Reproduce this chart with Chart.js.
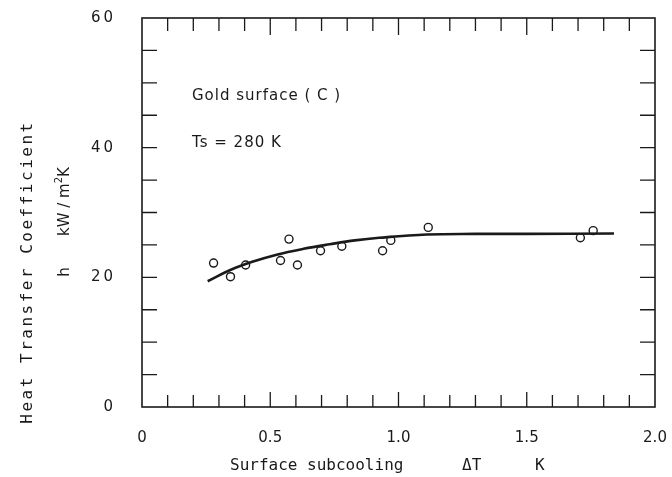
<!DOCTYPE html>
<html>
<head>
<meta charset="utf-8">
<script src="https://cdn.jsdelivr.net/npm/chart.js@4/dist/chart.umd.min.js"></script>
<style>
  html, body { margin: 0; padding: 0; background: #fff; }
  #wrap { width: 672px; height: 477px; }
</style>
</head>
<body>
<div id="wrap"><canvas id="chart" width="672" height="477"></canvas></div>
<script>
// measured points (open circles)
const pointX = [0.279, 0.345, 0.404, 0.54, 0.573, 0.606, 0.696, 0.779, 0.938, 0.97, 1.116, 1.709, 1.759];
const pointY = [22.2, 20.1, 21.9, 22.6, 25.9, 21.9, 24.1, 24.8, 24.1, 25.7, 27.7, 26.1, 27.2];

// fitted curve
const curveX = [0.256, 0.342, 0.43, 0.525, 0.63, 0.732, 0.83, 0.925, 1.11, 1.3, 1.5, 1.84];
const curveY = [19.4, 21.1, 22.4, 23.5, 24.4, 25.1, 25.7, 26.1, 26.6, 26.7, 26.7, 26.75];

const xTickLabels = ["0", "0.5", "1.0", "1.5", "2.0"];
const yTickLabels = ["0", "2\u20090", "4\u20090", "6\u20090"];

const MONO = "'DejaVu Sans Mono', monospace";
const SANS = "'DejaVu Sans', sans-serif";
const INK = "#1a1a1a";

// draw a row of text pieces one after the other, starting at x
function textRow(ctx, pieces, x, y) {
  pieces.forEach((p) => {
    ctx.font = p.font;
    ctx.fillText(p.text, x, y + (p.dy || 0));
    x += ctx.measureText(p.text).width + (p.gap || 0);
  });
}

// ticks pointing inward, frame on all sides, annotations
const framePlugin = {
  id: "frame",
  afterDraw(chart) {
    const { ctx, chartArea: a, scales: { x, y } } = chart;
    ctx.save();
    ctx.strokeStyle = INK;
    ctx.lineWidth = 1.6;
    ctx.strokeRect(a.left, a.top, a.right - a.left, a.bottom - a.top);

    ctx.lineWidth = 1.3;
    ctx.beginPath();
    for (let i = 1; i < 20; i++) {
      const px = x.getPixelForValue(i / 10);
      const major = i % 5 === 0;
      ctx.moveTo(px, a.top);
      ctx.lineTo(px, a.top + (major ? 17 : 13));
      ctx.moveTo(px, a.bottom);
      ctx.lineTo(px, a.bottom - (major ? 15 : 12));
    }
    for (let v = 5; v < 60; v += 5) {
      const py = y.getPixelForValue(v);
      ctx.moveTo(a.left, py);
      ctx.lineTo(a.left + 15, py);
      ctx.moveTo(a.right, py);
      ctx.lineTo(a.right - 15, py);
    }
    ctx.stroke();

    ctx.fillStyle = INK;
    ctx.textBaseline = "middle";
    ctx.textAlign = "left";
    ctx.letterSpacing = "1px";
    ctx.font = "15px " + SANS;
    ctx.fillText("Gold surface ( C )", 192, 96);
    ctx.fillText("Ts = 280 K", 192, 143);

    // x title
    ctx.letterSpacing = "0px";
    ctx.font = "16px " + MONO;
    ctx.fillText("Surface subcooling", 230, 466);
    ctx.fillText("\u0394T", 462, 466);
    ctx.fillText("K", 535, 466);

    // y title (rotated)
    ctx.save();
    ctx.translate(28, 272);
    ctx.rotate(-Math.PI / 2);
    ctx.textAlign = "center";
    ctx.letterSpacing = "2.5px";
    ctx.fillText("Heat Transfer Coefficient", 0, 0);
    ctx.restore();

    ctx.save();
    ctx.translate(65, 272);
    ctx.rotate(-Math.PI / 2);
    ctx.textAlign = "center";
    ctx.letterSpacing = "0px";
    ctx.font = "15px " + SANS;
    ctx.fillText("h", 0, 0);
    ctx.textAlign = "left";
    textRow(ctx, [
      { text: "kW / m", font: "15px " + SANS },
      { text: "2", font: "10px " + SANS, dy: -6 },
      { text: "K", font: "15px " + SANS }
    ], 36, 0);
    ctx.restore();

    ctx.restore();
  }
};

const zeroPad = (s) => {
  s.paddingTop = 0;
  s.paddingBottom = 0;
  s.paddingLeft = 0;
  s.paddingRight = 0;
};

new Chart(document.getElementById("chart"), {
  type: "scatter",
  data: {
    datasets: [
      {
        type: "line",
        data: curveX.map((v, i) => ({ x: v, y: curveY[i] })),
        borderColor: INK,
        borderWidth: 2.6,
        pointRadius: 0,
        tension: 0.4,
        fill: false
      },
      {
        data: pointX.map((v, i) => ({ x: v, y: pointY[i] })),
        pointStyle: "circle",
        pointRadius: 4,
        pointBorderWidth: 1.4,
        pointBorderColor: INK,
        pointBackgroundColor: "#fff"
      }
    ]
  },
  options: {
    responsive: false,
    animation: false,
    devicePixelRatio: 1,
    layout: { padding: { top: 18, right: 17, left: 0, bottom: 0 } },
    plugins: { legend: { display: false }, tooltip: { enabled: false } },
    scales: {
      x: {
        type: "linear",
        min: 0,
        max: 2,
        grid: { display: false },
        border: { display: false },
        afterFit: (s) => { s.height = 70; zeroPad(s); },
        ticks: {
          stepSize: 0.5,
          padding: 14,
          color: INK,
          font: { family: SANS, size: 15 },
          maxRotation: 0,
          callback: (v) => xTickLabels[Math.round(v * 2)]
        }
      },
      y: {
        min: 0,
        max: 60,
        grid: { display: false },
        border: { display: false },
        afterFit: (s) => { s.width = 142; zeroPad(s); },
        ticks: {
          stepSize: 20,
          padding: 21,
          color: INK,
          font: { family: SANS, size: 15 },
          callback: (v) => yTickLabels[v / 20]
        }
      }
    }
  },
  plugins: [framePlugin]
});
</script>
</body>
</html>
